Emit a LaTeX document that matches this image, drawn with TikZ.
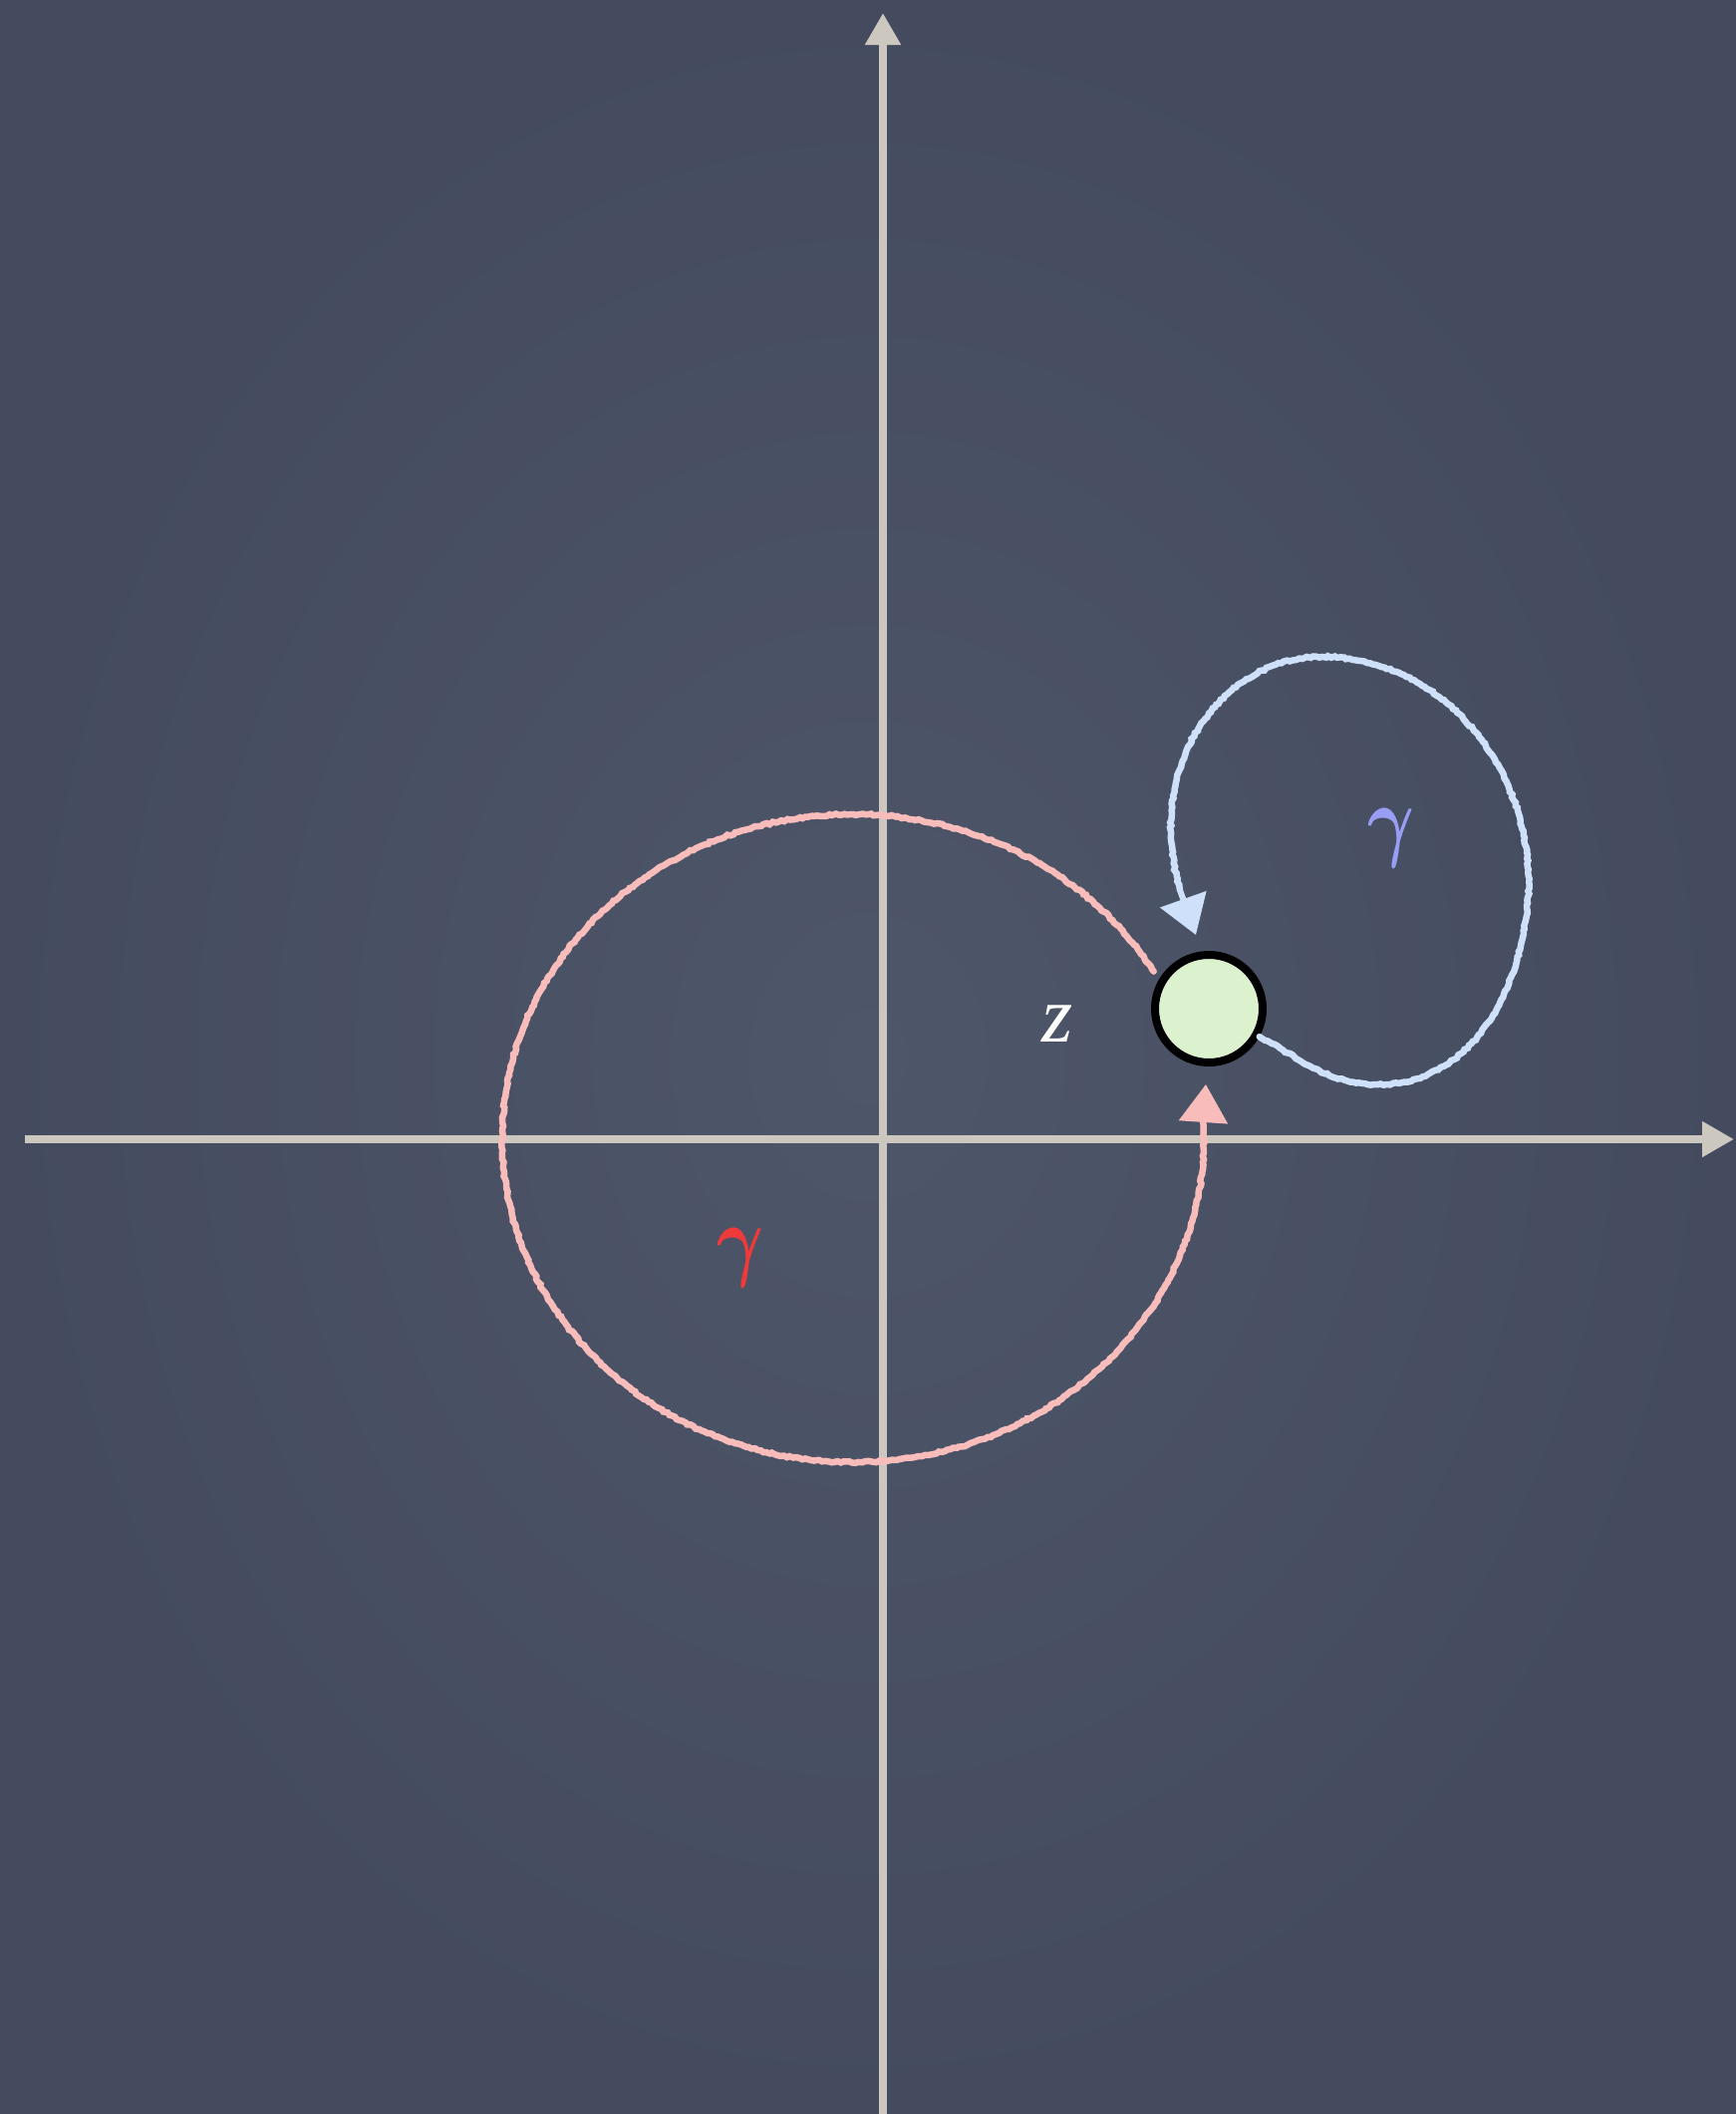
\documentclass[tikz,border=0pt]{standalone}
\usepackage{fontspec}
\setmainfont{Liberation Serif}
\usetikzlibrary{arrows.meta,decorations.pathmorphing}
\definecolor{boardin}{HTML}{4E566A}
\definecolor{boardout}{HTML}{444B5E}
\definecolor{axiscol}{HTML}{CCC8BF}
\definecolor{pinkchalk}{HTML}{F8BCBA}
\definecolor{bluechalk}{HTML}{CFE1FA}
\definecolor{redlab}{HTML}{F03A3A}
\definecolor{bluelab}{HTML}{979EF3}
\definecolor{dotfill}{HTML}{DCF1CD}
\begin{document}
\pgfmathsetseed{7}
\begin{tikzpicture}[x=1pt,y=1pt,
  axisline/.style={line width=8pt, draw=axiscol, -{Triangle[length=32pt,width=34pt]}},
  chalk/.style={line width=6.5pt, line cap=round, decorate,
    decoration={random steps,segment length=3pt,amplitude=0.9pt}},
  chalktip/.style={line width=6pt, -{Triangle[length=38pt,width=48pt]}},
  lab/.style={inner sep=0pt, xscale=7.2, yscale=9.2, font=\boldmath},
  zdot/.style={circle, draw=black, line width=8pt, fill=dotfill, minimum size=108pt, inner sep=0pt}
]
\useasboundingbox (0,0) rectangle (1742,-2121);
\shade[inner color=boardin, outer color=boardout] (0,0) rectangle (1742,-2121);

% axes
\coordinate (xs) at (25,-1143);
\coordinate (xe) at (1740,-1143);
\coordinate (ys) at (886,-2121);
\coordinate (ye) at (886,-13);
\draw[axisline] (xs) -- (xe);
\draw[axisline] (ys) -- (ye);

% point z
\node[zdot] (z) at (1213,-1012) {};
\node[inner sep=0pt, text=white, font=\fontsize{80}{80}\selectfont\itshape] (zl) at (1061,-1027) {z};

% red loop (ellipse arc) around the origin
\draw[pinkchalk, chalk] (1157.7,-974.6) coordinate (rs)
  arc[start angle=31, end angle=363, x radius=352, y radius=325] coordinate (re);
\coordinate (rtip) at (1210,-1088);
\draw[pinkchalk, chalktip] (re) -- (rtip);
\node[lab, text=redlab] (rg) at (743,-1262) {$\gamma$};

% blue loop
\coordinate (b1) at (1383,-1088);
\coordinate (b2) at (1533,-906);
\coordinate (b3) at (1327,-659);
\coordinate (b4) at (1175,-834);
\coordinate (b5) at (1184,-893);
\coordinate (btip) at (1200,-938);
\draw[bluechalk, chalk] (z.-29) to[out=-28,in=180] (b1) to[out=0,in=-95] (b2)
  to[out=85,in=0] (b3) to[out=180,in=92] (b4) to[out=-88,in=105] (b5);
\draw[bluechalk, chalktip] (b5) -- (btip);
\node[lab, text=bluelab] (bg) at (1396,-841) {$\gamma$};
\end{tikzpicture}
\end{document}
